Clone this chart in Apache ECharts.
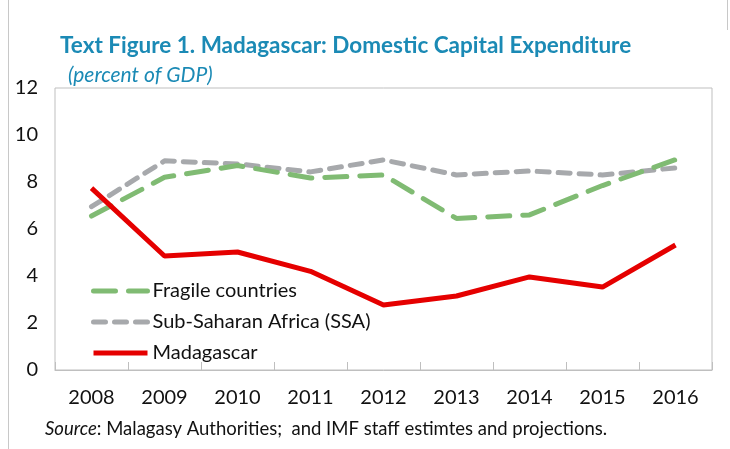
<!DOCTYPE html>
<html>
<head>
<meta charset="utf-8">
<script src="https://cdn.jsdelivr.net/npm/echarts@6/dist/echarts.min.js"></script>
<style>
html, body { margin: 0; padding: 0; background: #fff; }
#chart { width: 730px; height: 449px; }
</style>
</head>
<body>
<div id="chart"></div>
<script>
// categories and values (percent of GDP)
var years = ['2008', '2009', '2010', '2011', '2012', '2013', '2014', '2015', '2016'];
var fragile = [6.55, 8.2, 8.7, 8.17, 8.3, 6.45, 6.6, 7.85, 8.95];
var ssa = [6.95, 8.9, 8.77, 8.43, 8.94, 8.3, 8.47, 8.3, 8.6];
var madagascar = [7.74, 4.85, 5.02, 4.2, 2.77, 3.15, 3.96, 3.53, 5.32];

var font = 'Lato, "Open Sans", sans-serif';
var blue = '#1b8ab5';

var myChart = echarts.init(document.getElementById('chart'));
var option = {
    animation: false,
    backgroundColor: '#fff',
    textStyle: { fontFamily: font },
    title: [
        {
            text: 'Text Figure 1. Madagascar: Domestic Capital Expenditure',
            left: 55, top: 29,
            textStyle: { color: blue, fontSize: 22.5, fontWeight: 'bold', fontFamily: font }
        },
        {
            text: '(percent of GDP)',
            left: 63, top: 60,
            textStyle: { color: blue, fontSize: 21, fontStyle: 'italic', fontWeight: 'normal', fontFamily: font }
        }
    ],
    legend: {
        orient: 'vertical',
        left: 86, top: 276,
        itemWidth: 54, itemHeight: 14, itemGap: 11,
        itemStyle: { opacity: 0 },
        lineStyle: { width: 5 },
        textStyle: { fontSize: 20, color: '#111', fontFamily: font },
        data: ['Fragile countries', 'Sub-Saharan Africa (SSA)', 'Madagascar']
    },
    grid: {
        left: 55, right: 18, top: 88, bottom: 79,
        show: true, borderColor: '#bfbfbf', borderWidth: 1
    },
    xAxis: {
        type: 'category',
        data: years,
        boundaryGap: true,
        axisLine: { lineStyle: { color: '#bfbfbf' } },
        axisTick: { show: true, inside: true, length: 8, lineStyle: { color: '#bfbfbf' } },
        axisLabel: { color: '#111', fontSize: 20, margin: 18, fontFamily: font }
    },
    yAxis: {
        type: 'value',
        min: 0, max: 12, interval: 2,
        axisLine: { show: false },
        axisTick: { show: false },
        splitLine: { show: false },
        axisLabel: { color: '#111', fontSize: 20, margin: 17, fontFamily: font }
    },
    series: [
        {
            name: 'Fragile countries', type: 'line', data: fragile,
            symbol: 'none', z: 2,
            lineStyle: { color: '#80bb73', width: 5, type: [22, 13], cap: 'round' },
            itemStyle: { color: '#80bb73' }
        },
        {
            name: 'Sub-Saharan Africa (SSA)', type: 'line', data: ssa,
            symbol: 'none', z: 1,
            lineStyle: { color: '#a7a9ac', width: 5, type: [12, 9], cap: 'round' },
            itemStyle: { color: '#a7a9ac' }
        },
        {
            name: 'Madagascar', type: 'line', data: madagascar,
            symbol: 'none', z: 3,
            lineStyle: { color: '#e50000', width: 5 },
            itemStyle: { color: '#e50000' }
        }
    ],
    graphic: [
        {
            type: 'text', left: 45, top: 420,
            style: {
                rich: {
                    i: { fontStyle: 'italic', fontSize: 18.5, fill: '#111', fontFamily: font },
                    n: { fontSize: 18.5, fill: '#111', fontFamily: font }
                },
                text: '{i|Source}{n|: Malagasy Authorities;  and IMF staff estimtes and projections.}'
            }
        },
        {
            type: 'line', shape: { x1: 8.5, y1: 0, x2: 8.5, y2: 449 },
            style: { stroke: '#c8c8c8', lineWidth: 1 }
        },
        {
            type: 'line', shape: { x1: 727.5, y1: 0, x2: 727.5, y2: 30 },
            style: { stroke: '#c8c8c8', lineWidth: 1 }
        }
    ]
};
myChart.setOption(option);
window.addEventListener('resize', function () {
    myChart.resize();
});
</script>
</body>
</html>
